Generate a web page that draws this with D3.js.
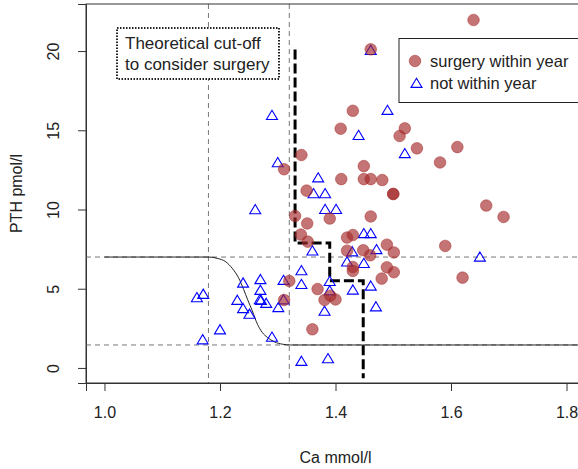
<!DOCTYPE html>
<html>
<head>
<meta charset="utf-8">
<script src="https://cdn.jsdelivr.net/npm/d3@7"></script>
<style>
body{margin:0;background:white}
text{font-family:"Liberation Sans",Arial,sans-serif;fill:#222}
</style>
</head>
<body>
<div id="chart"></div>
<script>

// -----------------------------
// DATA
// -----------------------------

// surgery within year (circles)
const surgCa = [1.639,1.461,1.430,1.409,1.520,1.511,1.341,1.541,1.611,1.311,1.449,1.581,1.410,1.449,1.461,1.481,1.350,1.500,1.500,1.661,1.691,1.330,1.390,1.461,1.351,1.340,1.352,1.420,1.430,1.420,1.448,1.460,1.489,1.501,1.590,1.430,1.430,1.489,1.501,1.480,1.620,1.320,1.369,1.391,1.381,1.400,1.311,1.360]
const surgPth = [21.96,20.11,16.23,15.10,15.12,14.64,13.44,13.86,13.94,12.54,12.74,12.97,11.92,11.92,11.92,11.86,11.19,10.98,10.98,10.25,9.53,9.59,9.43,9.56,9.12,8.42,7.97,8.23,8.39,7.40,7.43,7.11,7.78,7.29,7.70,6.37,6.12,6.35,6.04,5.64,5.70,5.49,4.98,4.56,4.29,4.32,4.29,2.44]

// not within year (triangles)
const notCa = [1.290,1.461,1.490,1.440,1.520,1.300,1.370,1.362,1.382,1.382,1.401,1.261,1.449,1.461,1.429,1.471,1.360,1.650,1.420,1.449,1.341,1.341,1.390,1.390,1.430,1.461,1.470,1.381,1.341,1.387,1.310,1.310,1.301,1.290,1.240,1.270,1.270,1.269,1.271,1.280,1.230,1.240,1.251,1.160,1.171,1.200,1.170]
const notPth = [15.96,20.06,16.28,14.70,13.55,12.98,12.02,11.02,11.02,10.03,10.03,10.01,8.50,8.50,7.35,7.49,7.41,7.02,6.71,6.62,6.16,5.29,5.48,4.89,4.94,5.19,3.88,3.60,0.44,0.61,5.55,4.32,3.83,1.96,5.38,5.60,4.92,4.33,4.28,4.10,4.29,3.77,3.41,4.46,4.67,2.43,1.80]

// reference lines
const refCa = [1.18,1.32]
const refPth = [7.0,1.45]

// smooth reference curve
const curveCa = [1.00,1.18,1.195,1.21,1.222,1.232,1.241,1.248,1.256,1.265,1.273,1.282,1.294,1.308,1.322,1.832]
const curvePth = [7.00,7.00,6.92,6.70,6.25,5.70,4.95,4.30,3.60,2.75,2.25,1.93,1.65,1.50,1.45,1.45]

// theoretical cut-off step line
const cutCa = [1.33,1.33,1.39,1.39,1.448,1.448]
const cutPth = [20.1,7.89,7.89,5.51,5.51,-0.65]

const xTicks = [1.0,1.2,1.4,1.6,1.8]
const yTicks = [0,5,10,15,20]

const legendLabels = ["surgery within year","not within year"]
const noteLines = ["Theoretical cut-off","to consider surgery"]


// -----------------------------
// CHART
// -----------------------------

const width = 578
const height = 469
const box = {left:86,right:585,top:4,bottom:383}
const brown = "#A52A2A"
const tri = "M0,-4.8L5.5,4.4L-5.5,4.4Z"

const svg = d3.select("#chart")
.append("svg")
.attr("width",width)
.attr("height",height)

const x = d3.scaleLinear()
.domain([0.968,1.832])
.range([box.left,box.right])

const y = d3.scaleLinear()
.domain([-0.95,22.97])
.range([box.bottom,box.top])


// AXES

const xAxis = svg.append("g")
.attr("transform",`translate(0,${box.bottom})`)
.call(d3.axisBottom(x).tickValues(xTicks).tickFormat(d3.format(".1f")).tickSize(8))

const yAxis = svg.append("g")
.attr("transform",`translate(${box.left},0)`)
.call(d3.axisLeft(y).tickValues(yTicks).tickSize(8))

svg.selectAll(".domain").attr("stroke","#333")
svg.selectAll(".tick line").attr("stroke","#333")
svg.selectAll(".tick text").attr("font-size",16).attr("fill","#222")
.style("font-family","'Liberation Sans',Arial,sans-serif")

xAxis.selectAll(".tick text").attr("dy","0.71em").attr("y",24)

yAxis.selectAll(".tick text")
.attr("x",0).attr("dy",0)
.attr("text-anchor","middle")
.attr("transform","translate(-27,0) rotate(-90)")

svg.append("text")
.attr("x",(box.left+box.right)/2)
.attr("y",463)
.attr("text-anchor","middle")
.attr("font-size",16)
.text("Ca mmol/l")

svg.append("text")
.attr("transform",`translate(22,${(box.top+box.bottom)/2}) rotate(-90)`)
.attr("text-anchor","middle")
.attr("font-size",16)
.text("PTH pmol/l")


// CLIP TO PLOT BOX

svg.append("clipPath")
.attr("id","clip")
.append("rect")
.attr("x",box.left)
.attr("y",box.top)
.attr("width",box.right-box.left)
.attr("height",box.bottom-box.top)

const plot = svg.append("g").attr("clip-path","url(#clip)")


// REFERENCE LINES

plot.selectAll(".vref")
.data(refCa)
.enter()
.append("line")
.attr("x1",d=>x(d)).attr("x2",d=>x(d))
.attr("y1",box.top).attr("y2",box.bottom)
.attr("stroke","#777")
.attr("stroke-dasharray","5,4")

plot.selectAll(".href")
.data(refPth)
.enter()
.append("line")
.attr("x1",box.left).attr("x2",box.right)
.attr("y1",d=>y(d)).attr("y2",d=>y(d))
.attr("stroke","#777")
.attr("stroke-dasharray","5,4")

const curveData = curveCa.map((c,i)=>({ca:c,pth:curvePth[i]}))

plot.append("path")
.datum(curveData)
.attr("fill","none")
.attr("stroke","#222")
.attr("stroke-width",1)
.attr("d",d3.line().x(d=>x(d.ca)).y(d=>y(d.pth)).curve(d3.curveMonotoneX))

const cutData = cutCa.map((c,i)=>({ca:c,pth:cutPth[i]}))

plot.append("path")
.datum(cutData)
.attr("fill","none")
.attr("stroke","black")
.attr("stroke-width",3)
.attr("stroke-dasharray","10,4")
.attr("d",d3.line().x(d=>x(d.ca)).y(d=>y(d.pth)))


// POINTS

const notData = notCa.map((c,i)=>({ca:c,pth:notPth[i]}))
const surgData = surgCa.map((c,i)=>({ca:c,pth:surgPth[i]}))

plot.selectAll(".tri")
.data(notData)
.enter()
.append("path")
.attr("d",tri)
.attr("transform",d=>`translate(${x(d.ca)},${y(d.pth)})`)
.attr("fill","none")
.attr("stroke","#0000FF")
.attr("stroke-width",1.1)

plot.selectAll(".dot")
.data(surgData)
.enter()
.append("circle")
.attr("cx",d=>x(d.ca))
.attr("cy",d=>y(d.pth))
.attr("r",5.8)
.attr("fill",brown)
.attr("fill-opacity",0.65)
.attr("stroke",brown)
.attr("stroke-opacity",0.5)
.attr("stroke-width",1)


// BOX

svg.append("rect")
.attr("x",box.left)
.attr("y",box.top)
.attr("width",box.right-box.left)
.attr("height",box.bottom-box.top)
.attr("fill","none")
.attr("stroke","#333")


// NOTE BOX

svg.append("rect")
.attr("x",117).attr("y",28)
.attr("width",162).attr("height",51)
.attr("fill","white")
.attr("stroke","#222")
.attr("stroke-width",2)
.attr("stroke-dasharray","1.5,1.5")

svg.selectAll(".note")
.data(noteLines)
.enter()
.append("text")
.attr("x",125)
.attr("y",(d,i)=>49+i*21)
.attr("font-size",17)
.text(d=>d)


// LEGEND

const legend = svg.append("g")

legend.append("rect")
.attr("x",399).attr("y",38.5)
.attr("width",190).attr("height",64)
.attr("fill","white")
.attr("stroke","#222")

legend.append("circle")
.attr("cx",415).attr("cy",61)
.attr("r",5.8)
.attr("fill",brown)
.attr("fill-opacity",0.65)
.attr("stroke",brown)
.attr("stroke-opacity",0.5)

legend.append("path")
.attr("d",tri)
.attr("transform","translate(416.5,83)")
.attr("fill","none")
.attr("stroke","#0000FF")
.attr("stroke-width",1.1)

legend.selectAll(".lab")
.data(legendLabels)
.enter()
.append("text")
.attr("x",430)
.attr("y",(d,i)=>67+i*22)
.attr("font-size",16.5)
.text(d=>d)

</script>
</body>
</html>
